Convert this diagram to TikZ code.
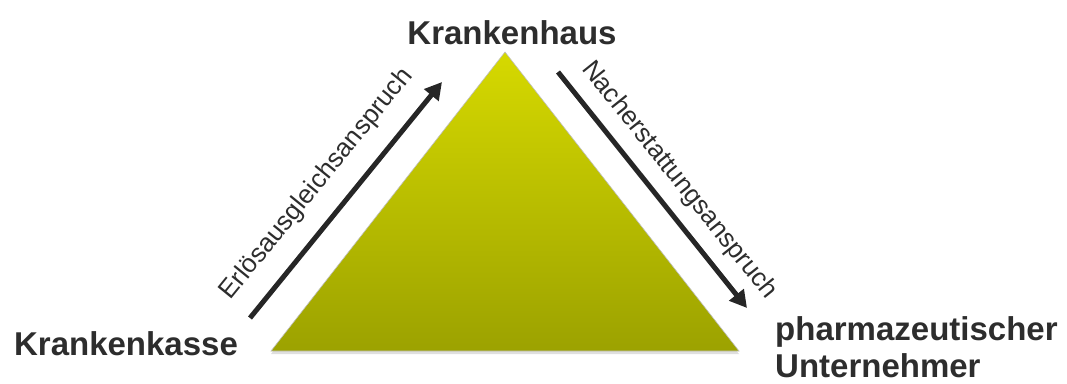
\documentclass[tikz,border=0pt]{standalone}
\usepackage{fontspec}
\setmainfont{Liberation Sans}
\usepackage{tikz}
\usetikzlibrary{arrows.meta, positioning, shadows}
\definecolor{cTriTop}{RGB}{214,217,0}
\definecolor{cTriBot}{RGB}{156,162,0}
\definecolor{cDark}{RGB}{38,38,38}
\definecolor{cText}{RGB}{45,45,45}
\tikzset{
	party/.style   ={font=\bfseries\fontsize{33}{37}\selectfont, text=cText, inner sep=0pt},
	claim/.style   ={-{Triangle[length=17pt, width=18pt]}, line width=5pt, draw=cDark},
	claimlbl/.style={font=\fontsize{26}{30}\selectfont, text=cText, sloped, inner sep=0pt},
}
\begin{document}
\begin{tikzpicture}[x=1pt, y=1pt]
	\useasboundingbox (0,0) rectangle (1067,383);
	% triangle
	\coordinate (top) at (505,331);
	\coordinate (bl) at (271,32);
	\coordinate (br) at (739,32);
	\path[top color=cTriTop, bottom color=cTriBot, draw=black!25, line width=0.6pt,
		drop shadow={shadow xshift=0pt, shadow yshift=-3pt, opacity=0.25}] (top) -- (br) -- (bl) -- cycle;
	% parties
	\node[party, anchor=base] (haus) at (512,338) {Krankenhaus};
	\node[party, anchor=base] (kasse) at (126,28) {Krankenkasse};
	\node[party, anchor=base west, align=left] (pu) at (775,6) {pharmazeutischer\\Unternehmer};
	% claims
	\coordinate (e1) at (250,65); \coordinate (e2) at (442,301);
	\coordinate (n1) at (558,311); \coordinate (n2) at (747,75);
	\draw[claim] (e1) -- node[claimlbl, pos=0.48, above=18pt] {Erlösausgleichsanspruch} (e2);
	\draw[claim] (n1) -- node[claimlbl, pos=0.53, above=12pt] {Nacherstattungsanspruch} (n2);
\end{tikzpicture}
\end{document}
